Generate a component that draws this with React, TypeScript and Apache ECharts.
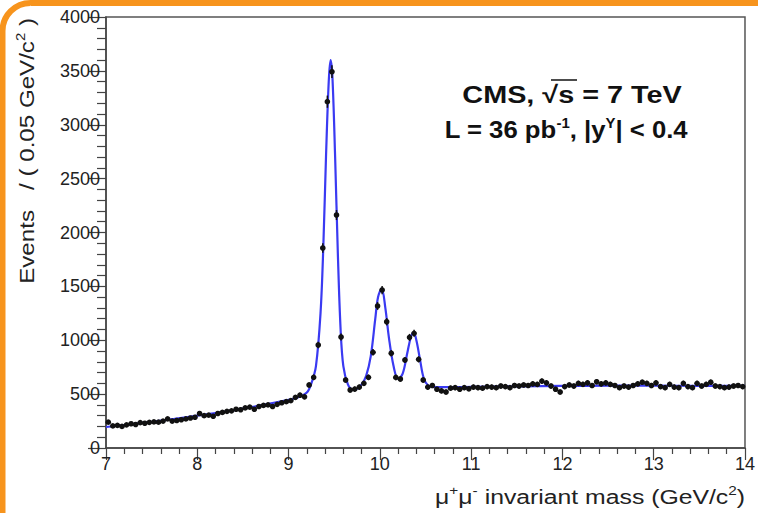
import React, { useEffect, useRef } from 'react';
import * as echarts from 'echarts';

// Histogram: events per 0.05 GeV/c^2 bin, from 7.0 to 14.0 GeV/c^2
const BIN_LOW = 7.0;
const BIN_WIDTH = 0.05;
const counts = [
  240, 205, 210, 200, 215, 225, 218, 235, 230, 238,
  242, 240, 250, 270, 250, 255, 262, 270, 278, 285,
  320, 300, 305, 295, 320, 330, 340, 345, 360, 355,
  372, 380, 360, 385, 395, 400, 385, 405, 420, 430,
  440, 470, 490, 475, 585, 656, 956, 1856, 3214, 3492,
  2162, 1030, 631, 538, 547, 565, 600, 656, 888, 1318,
  1466, 1172, 879, 655, 640, 817, 1027, 1064, 823, 631,
  565, 580, 545, 530, 520, 555, 560, 545, 560, 550,
  565, 560, 555, 570, 565, 560, 575, 570, 560, 580,
  575, 585, 580, 595, 590, 620, 605, 575, 545, 520,
  570, 585, 575, 600, 590, 605, 580, 615, 595, 605,
  590, 580, 560, 575, 565, 580, 595, 610, 600, 580,
  605, 570, 560, 590, 565, 560, 600, 570, 560, 600,
  575, 590, 610, 575, 570, 560, 565, 575, 580, 570,
];

// Fit curve
const fitMass = [
  7.0, 7.25, 7.5, 7.75, 8.0, 8.25, 8.5, 8.75, 9.0, 9.1, 9.2, 9.25, 9.3, 9.35,
  9.38, 9.41, 9.44, 9.46, 9.48, 9.51, 9.54, 9.57, 9.6, 9.65, 9.7, 9.75, 9.8,
  9.85, 9.9, 9.95, 9.98, 10.02, 10.06, 10.1, 10.15, 10.2, 10.25, 10.3, 10.34,
  10.37, 10.4, 10.44, 10.48, 10.53, 10.6, 10.8, 11.0, 11.5, 12.0, 12.5, 13.0,
  13.5, 14.0,
];
const fitEvents = [
  195, 218, 243, 270, 300, 330, 365, 405, 448, 468, 515, 600, 760, 1250,
  1850, 2700, 3400, 3600, 3450, 2700, 1800, 1100, 760, 590, 545, 550, 590,
  670, 850, 1200, 1400, 1480, 1300, 1020, 760, 640, 690, 880, 1030,
  1070, 1000, 820, 650, 580, 565, 565, 567, 572, 576, 578, 578,
  577, 576,
];

const X_MIN = 7;
const X_MAX = 14;
const X_STEP = 1;
const Y_MIN = 0;
const Y_MAX = 4000;
const Y_STEP = 500;

const FONT = '"Liberation Sans", Arial, Helvetica, sans-serif';
const AXIS_COLOR = '#444';
const NB = '\u00a0';

export default function App() {
  const ref = useRef<HTMLDivElement>(null);

  useEffect(() => {
    if (!ref.current) return;
    const chart = echarts.init(ref.current, undefined, { renderer: 'svg' });
    const points = counts.map((c, i) => [BIN_LOW + BIN_WIDTH * (i + 0.5), c]);
    const fit = fitMass.map((m, i) => [m, fitEvents[i]]);

    chart.setOption({
      animation: false,
      backgroundColor: '#ffffff',
      grid: {
        left: 106,
        top: 17,
        right: 12,
        bottom: 65,
        show: true,
        borderColor: '#555',
        borderWidth: 1.5,
        backgroundColor: 'transparent',
      },
      xAxis: {
        type: 'value',
        min: X_MIN,
        max: X_MAX,
        interval: X_STEP,
        axisLine: { show: true, lineStyle: { color: AXIS_COLOR, width: 1.5 } },
        axisTick: { show: true, inside: true, length: -12, lineStyle: { color: AXIS_COLOR, width: 1.2 } },
        minorTick: { show: true, splitNumber: 5, length: -6, lineStyle: { color: AXIS_COLOR, width: 1.2 } },
        splitLine: { show: false },
        axisLabel: { color: '#222', fontFamily: FONT, fontSize: 18, margin: 7, formatter: (v: number) => String(v) },
      },
      yAxis: {
        type: 'value',
        min: Y_MIN,
        max: Y_MAX,
        interval: Y_STEP,
        axisLine: { show: true, lineStyle: { color: AXIS_COLOR, width: 1.5 } },
        axisTick: { show: true, inside: true, length: -18, lineStyle: { color: AXIS_COLOR, width: 1.2 } },
        minorTick: { show: true, splitNumber: 5, length: -9, lineStyle: { color: AXIS_COLOR, width: 1.2 } },
        splitLine: { show: false },
        axisLabel: { color: '#222', fontFamily: FONT, fontSize: 18, margin: 6, formatter: (v: number) => String(v) },
      },
      series: [
        {
          type: 'line',
          data: fit,
          smooth: 0.35,
          showSymbol: false,
          lineStyle: { color: '#3a3af2', width: 2.2 },
          z: 2,
        },
        {
          type: 'custom',
          data: points,
          z: 3,
          renderItem: (params: any, api: any) => {
            const x = api.value(0);
            const y = api.value(1);
            const p = api.coord([x, y]);
            const e = Math.sqrt(y);
            const t = api.coord([x, y + e]);
            const b = api.coord([x, y - e]);
            const l = api.coord([x - BIN_WIDTH / 2, y]);
            const r = api.coord([x + BIN_WIDTH / 2, y]);
            return {
              type: 'group',
              children: [
                { type: 'line', shape: { x1: p[0], y1: t[1], x2: p[0], y2: b[1] }, style: { stroke: '#111', lineWidth: 1.5 } },
                { type: 'line', shape: { x1: l[0], y1: p[1], x2: r[0], y2: p[1] }, style: { stroke: '#111', lineWidth: 1.5 } },
                { type: 'circle', shape: { cx: p[0], cy: p[1], r: 2.8 }, style: { fill: '#111' } },
              ],
            };
          },
        },
      ],
      graphic: [
        {
          type: 'rect',
          shape: { x: 2.5, y: 3, width: 900, height: 700, r: 28 },
          style: { fill: 'none', stroke: '#f7941d', lineWidth: 6 },
          silent: true,
        },
        {
          type: 'text',
          x: 27,
          y: 18,
          rotation: Math.PI / 2,
          scaleX: 1.15,
          style: {
            text: `{n|Events${NB}${NB}${NB}/${NB}( 0.05 GeV/c}{s|2}{n| )}`,
            align: 'right',
            verticalAlign: 'middle',
            fill: '#222',
            rich: {
              n: { fontFamily: FONT, fontSize: 21, lineHeight: 26, fill: '#222' },
              s: { fontFamily: FONT, fontSize: 13, lineHeight: 14, verticalAlign: 'top', fill: '#222' },
            },
          },
        },
        {
          type: 'text',
          x: 745,
          y: 497,
          scaleX: 1.18,
          style: {
            text: '{n|μ}{s|+}{n|μ}{s|-}{n| invariant mass (GeV/c}{s|2}{n|)}',
            align: 'right',
            verticalAlign: 'middle',
            fill: '#222',
            rich: {
              n: { fontFamily: FONT, fontSize: 21, lineHeight: 26, fill: '#222' },
              s: { fontFamily: FONT, fontSize: 13, lineHeight: 14, verticalAlign: 'top', fill: '#222' },
            },
          },
        },
        {
          type: 'text',
          x: 572,
          y: 95,
          scaleX: 1.2,
          style: {
            text: '{b|CMS, √s = 7 TeV}',
            align: 'center',
            verticalAlign: 'middle',
            fill: '#111',
            rich: {
              b: { fontFamily: FONT, fontSize: 24, fontWeight: 'bold', lineHeight: 28, fill: '#111' },
            },
          },
        },
        {
          type: 'line',
          shape: { x1: 551, y1: 80, x2: 577, y2: 80 },
          style: { stroke: '#111', lineWidth: 1.5 },
        },
        {
          type: 'text',
          x: 566,
          y: 130,
          scaleX: 1.07,
          style: {
            text: '{b|L = 36 pb}{s|-1}{b|, |y}{s|Υ}{b|| < 0.4}',
            align: 'center',
            verticalAlign: 'middle',
            fill: '#111',
            rich: {
              b: { fontFamily: FONT, fontSize: 24, fontWeight: 'bold', lineHeight: 28, fill: '#111' },
              s: { fontFamily: FONT, fontSize: 14, fontWeight: 'bold', lineHeight: 14, verticalAlign: 'top', fill: '#111' },
            },
          },
        },
      ],
    });

    return () => chart.dispose();
  }, []);

  return (
    <div
      ref={ref}
      style={{ position: 'absolute', left: 0, top: 0, width: 758, height: 513 }}
    />
  );
}
